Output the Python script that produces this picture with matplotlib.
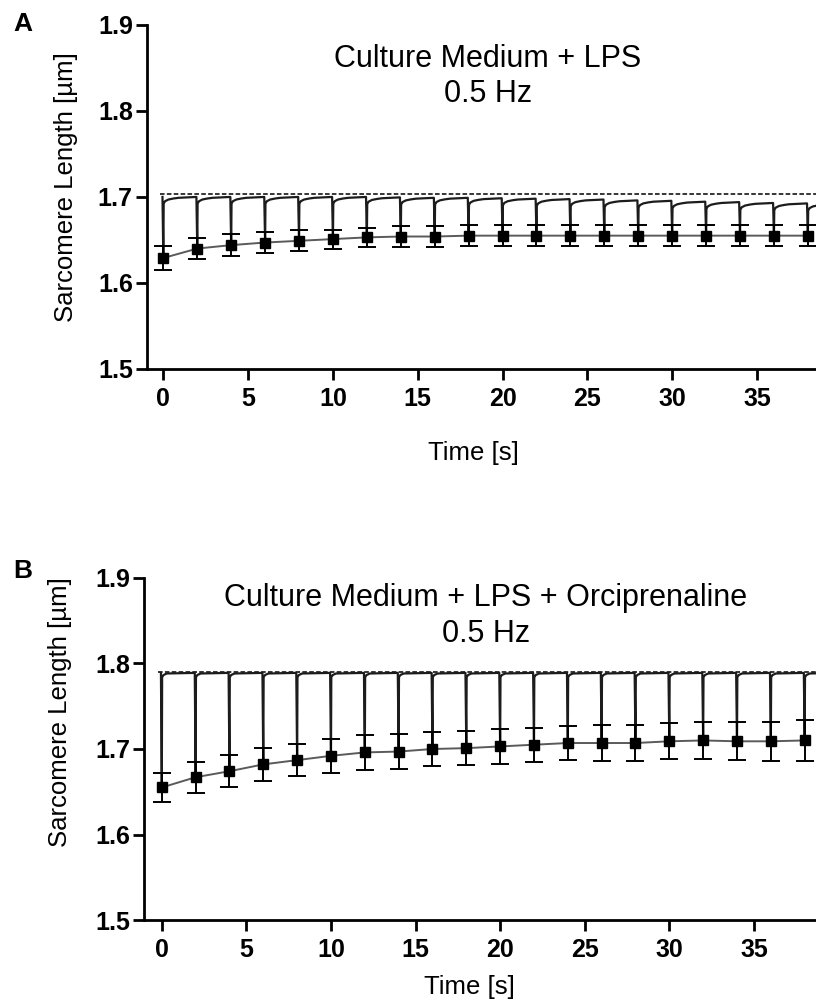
import matplotlib.pyplot as plt

plt.rcParams['font.family'] = ['Liberation Sans', 'DejaVu Sans']

# beat times (s), 0.5 Hz pacing
beat_t = [0, 2, 4, 6, 8, 10, 12, 14, 16, 18, 20, 22, 24, 26, 28, 30, 32, 34, 36, 38]

# panel A: Culture Medium + LPS
a_min = [1.629, 1.640, 1.644, 1.647, 1.649, 1.651, 1.653, 1.654, 1.654, 1.655,
         1.655, 1.655, 1.655, 1.655, 1.655, 1.655, 1.655, 1.655, 1.655, 1.655]
a_sd = [0.014, 0.012, 0.013, 0.012, 0.012, 0.011, 0.011, 0.012, 0.012, 0.012,
        0.012, 0.012, 0.012, 0.012, 0.012, 0.012, 0.012, 0.012, 0.012, 0.012]
a_rest = [1.700, 1.700, 1.700, 1.700, 1.700, 1.700, 1.6995, 1.699, 1.699, 1.6985,
          1.698, 1.6975, 1.697, 1.696, 1.6955, 1.6945, 1.694, 1.693, 1.6925, 1.692]
a_ref = 1.703
# relaxation after each twitch: time after beat (s) and distance below resting level
a_rise_dt = [0.02, 0.1, 0.3, 0.6, 0.9, 1.95]
a_rise_gap = [0.0078, 0.005, 0.003, 0.0018, 0.001, 0.0]

# panel B: Culture Medium + LPS + Orciprenaline
b_min = [1.655, 1.667, 1.674, 1.682, 1.687, 1.692, 1.696, 1.697, 1.700, 1.701,
         1.703, 1.705, 1.707, 1.707, 1.707, 1.709, 1.710, 1.709, 1.709, 1.710]
b_sd = [0.017, 0.018, 0.019, 0.019, 0.019, 0.020, 0.020, 0.020, 0.020, 0.020,
        0.020, 0.020, 0.020, 0.021, 0.021, 0.021, 0.022, 0.022, 0.023, 0.024]
b_rest = [1.789] * 20
b_ref = 1.790
b_rise_dt = [0.02, 0.1, 0.3, 1.95]
b_rise_gap = [0.005, 0.0025, 0.0007, 0.0]


def build_trace(beats, mins, rest, dts, gaps):
    xs, ys = [beats[0] - 0.05], [rest[0]]
    for t, m, r in zip(beats, mins, rest):
        xs.append(t)
        ys.append(m)
        for dt, g in zip(dts, gaps):
            xs.append(t + dt)
            ys.append(r - g)
    return xs, ys


def draw_panel(ax, mins, sd, rest, ref, dts, gaps, xlim):
    ax.plot([-0.2, 39], [ref, ref], ls=(0, (3, 1.5)), lw=1.1, color='black', zorder=1)
    tx, ty = build_trace(beat_t, mins, rest, dts, gaps)
    ax.plot(tx, ty, color='#1c1c1c', lw=1.6, zorder=2)
    ax.plot(beat_t, mins, color='#5a5a5a', lw=1.4, zorder=3)
    ax.errorbar(beat_t, mins, yerr=sd, fmt='s', color='black', ms=7,
                elinewidth=1.4, capsize=6.5, capthick=1.4, zorder=4)

    ax.set_xlim(*xlim)
    ax.set_ylim(1.5, 1.9)
    ax.set_xticks([0, 5, 10, 15, 20, 25, 30, 35])
    ax.set_yticks([1.5, 1.6, 1.7, 1.8, 1.9])
    ax.spines['top'].set_visible(False)
    ax.spines['right'].set_visible(False)
    for s in ['left', 'bottom']:
        ax.spines[s].set_linewidth(2)
    ax.tick_params(direction='out', length=8, width=2, labelsize=18)
    ax.tick_params(axis='x', pad=5)
    ax.tick_params(axis='y', pad=2)
    for lbl in ax.get_xticklabels() + ax.get_yticklabels():
        lbl.set_fontweight('bold')
    ax.set_ylabel('Sarcomere Length [µm]', fontsize=18.5)
    ax.set_xlabel('Time [s]', fontsize=18.5)


fig = plt.figure(figsize=(8.16, 10.01), dpi=100)
ax_a = fig.add_axes([0.1798, 0.6314, 0.8202, 0.3437])
ax_b = fig.add_axes([0.1765, 0.0809, 0.8235, 0.3417])

draw_panel(ax_a, a_min, a_sd, a_rest, a_ref, a_rise_dt, a_rise_gap, (-0.98, 38.48))
draw_panel(ax_b, b_min, b_sd, b_rest, b_ref, b_rise_dt, b_rise_gap, (-1.05, 38.67))

ax_a.yaxis.set_label_coords(-0.1026, 0.529)
ax_a.xaxis.set_label_coords(0.4875, -0.209)
ax_b.yaxis.set_label_coords(-0.107, 0.608)
ax_b.xaxis.set_label_coords(0.485, -0.161)

ax_a.text(0.51, 0.850, 'Culture Medium + LPS\n0.5 Hz', transform=ax_a.transAxes,
          ha='center', va='center', fontsize=22, linespacing=1.25)
ax_b.text(0.509, 0.889, 'Culture Medium + LPS + Orciprenaline\n0.5 Hz', transform=ax_b.transAxes,
          ha='center', va='center', fontsize=22, linespacing=1.25)

fig.text(23 / 816, 1 - 24 / 1001, 'A', fontsize=19, fontweight='bold', ha='center', va='center')
fig.text(23 / 816, 1 - 571 / 1001, 'B', fontsize=19, fontweight='bold', ha='center', va='center')

fig.savefig('out.png', dpi=100)
